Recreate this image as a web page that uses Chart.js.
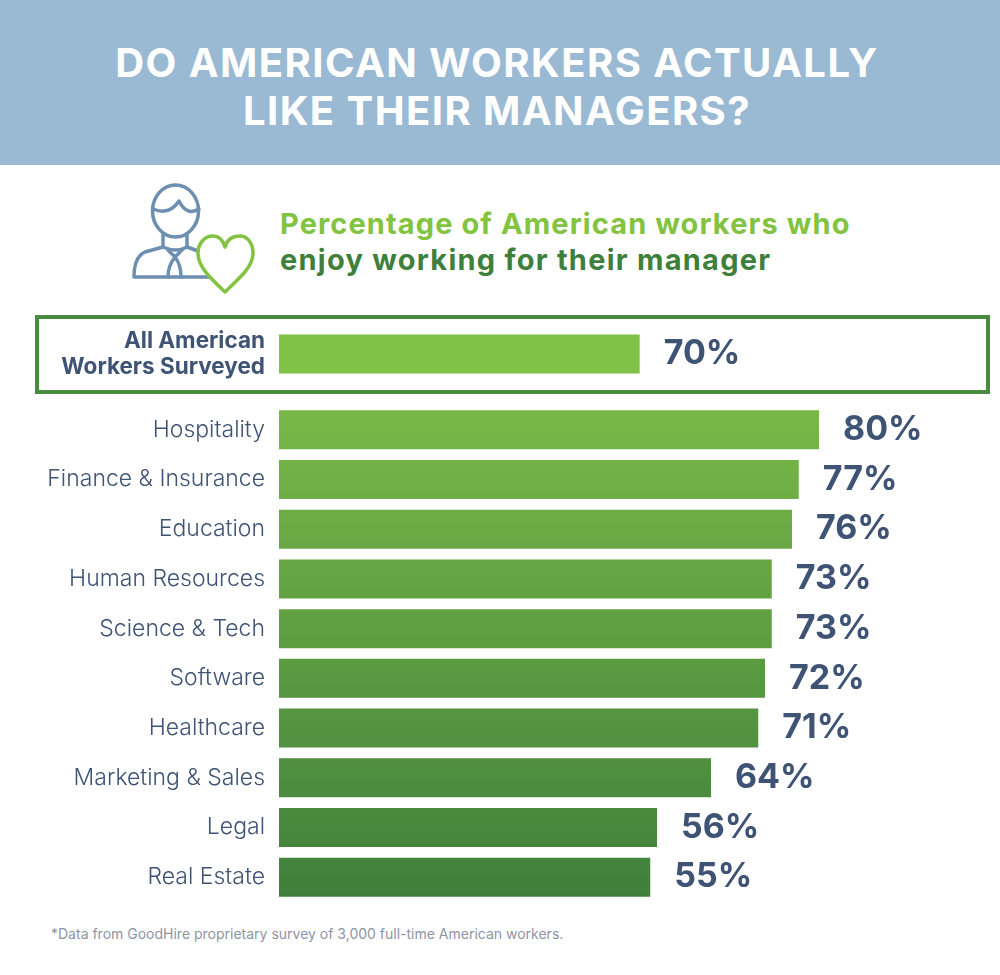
<!DOCTYPE html>
<html>
<head>
<meta charset="utf-8">
<title>Do American workers actually like their managers?</title>
<script src="https://cdn.jsdelivr.net/npm/chart.js@4"></script>
<style>
  html, body { margin: 0; padding: 0; background: #fff; }
  #page { position: relative; width: 1000px; height: 975px; overflow: hidden; font-family: Inter, sans-serif; }
  #header { position: absolute; left: 0; top: 0; width: 1000px; height: 165px; background: #9ab9d3; }
  #header div { position: absolute; left: -3px; width: 1000px; text-align: center; color: #fff; font-size: 40px; font-weight: 700; line-height: 48px; letter-spacing: 1.45px; white-space: nowrap; }
  .sub { position: absolute; left: 280px; font-size: 29px; font-weight: 700; line-height: 36px; white-space: nowrap; letter-spacing: 1.1px; }
  #frame { position: absolute; left: 35px; top: 315px; width: 947px; height: 71px; border: 4px solid #4a8a42; }
  canvas { position: absolute; left: 0; }
  #note { position: absolute; left: 51px; top: 925px; font-size: 14px; color: #8d95a5; white-space: nowrap; }
  svg { position: absolute; left: 0; top: 0; }
</style>
</head>
<body>
<div id="page">
  <div id="header">
    <div style="top:39px">DO AMERICAN WORKERS ACTUALLY</div>
    <div style="top:87px">LIKE THEIR MANAGERS?</div>
  </div>

  <svg width="300" height="300" fill="none" stroke-width="3.5" stroke-linejoin="round" stroke-linecap="round">
    <g stroke="#6d8fb0">
      <ellipse cx="175.500" cy="211" rx="23" ry="26"/>
      <path d="M153 209 C162 213 171 213 179 201 C185 213 192 213 199 209"/>
      <path d="M163 235 V247 C172 251 180 251 187 247 V235"/>
      <path d="M163 247 L145 252 C138 255 134 262 134 277 H210 M187 247 L198 251"/>
      <path d="M168 250 L175 257 L182 250 M175 257 C171 262 168 270 168 277 M175 257 C179 262 181 270 181 277"/>
    </g>
    <path stroke="#82c341" d="M225 292 C208 276 198 266 198 253 C198 243 205 236 213 236 C219 236 223 240 225 247 C227 240 232 236 240 236 C247 236 253 243 253 253 C253 266 242 276 225 292 Z" fill="#fff"/>
  </svg>

  <div class="sub" style="top:206px;color:#82c341">Percentage of American workers who</div>
  <div class="sub" style="top:242px;color:#3f7f3c;letter-spacing:1.25px">enjoy working for their manager</div>

  <div id="frame"></div>
  <canvas id="allChart" width="1000" height="70" style="top:319px"></canvas>
  <canvas id="industryChart" width="1000" height="497" style="top:405px"></canvas>

  <div id="note">*Data from GoodHire proprietary survey of 3,000 full-time American workers.</div>
</div>

<script>
// ===== DATA =====
const allLabel = ['All American', 'Workers Surveyed'];
const allValue = [70];
const categories = ['Hospitality', 'Finance & Insurance', 'Education', 'Human Resources', 'Science & Tech',
    'Software', 'Healthcare', 'Marketing & Sales', 'Legal', 'Real Estate'];
const values = [80, 77, 76, 73, 73, 72, 71, 64, 56, 55];

const textColor = '#3f5375';

// Draws "70%" style labels just past the end of each bar
const valueLabels = {
    id: 'valueLabels',
    afterDatasetsDraw(chart) {
        const ctx = chart.ctx;
        const data = chart.data.datasets[0].data;
        ctx.save();
        ctx.fillStyle = textColor;
        ctx.font = '700 34px Inter, sans-serif';
        ctx.textBaseline = 'middle';
        chart.getDatasetMeta(0).data.forEach((bar, i) => {
            ctx.fillText(data[i] + '%', bar.x + 24, bar.y);
        });
        ctx.restore();
    }
};

function makeChart(id, labels, data, maxValue, barPct, color, tickFont) {
    return new Chart(document.getElementById(id), {
        type: 'bar',
        data: {
            labels: labels,
            datasets: [{ data: data, backgroundColor: color, borderWidth: 0, barPercentage: barPct, categoryPercentage: 1 }]
        },
        options: {
            indexAxis: 'y',
            responsive: false,
            animation: false,
            layout: { padding: { right: 46 } },
            plugins: { legend: { display: false }, tooltip: { enabled: false } },
            scales: {
                x: { display: false, min: 0, max: maxValue },
                y: {
                    grid: { display: false, drawTicks: false },
                    border: { display: false },
                    ticks: { color: textColor, font: tickFont, padding: 14, autoSkip: false },
                    afterFit(scale) {
                        // fixed label column, and no extra room above/below the bars
                        scale.width = 279;
                        scale.paddingTop = 0;
                        scale.paddingBottom = 0;
                    }
                }
            }
        },
        plugins: [valueLabels]
    });
}

// The headline bar is drawn shorter in the source than the industry bars' scale, so it gets its own
makeChart('allChart', [allLabel], allValue, 131, 0.557, '#80c148',
    { family: 'Inter, sans-serif', size: 22.5, weight: '700', lineHeight: 1.16 });

makeChart('industryChart', categories, values, 100, 0.785, function(context) {
    const g = context.chart.ctx.createLinearGradient(0, 0, 0, context.chart.height);
    g.addColorStop(0, '#79b847');
    g.addColorStop(1, '#3f7f3c');
    return g;
}, { family: 'Inter, sans-serif', size: 23, weight: '300' });
</script>
</body>
</html>
